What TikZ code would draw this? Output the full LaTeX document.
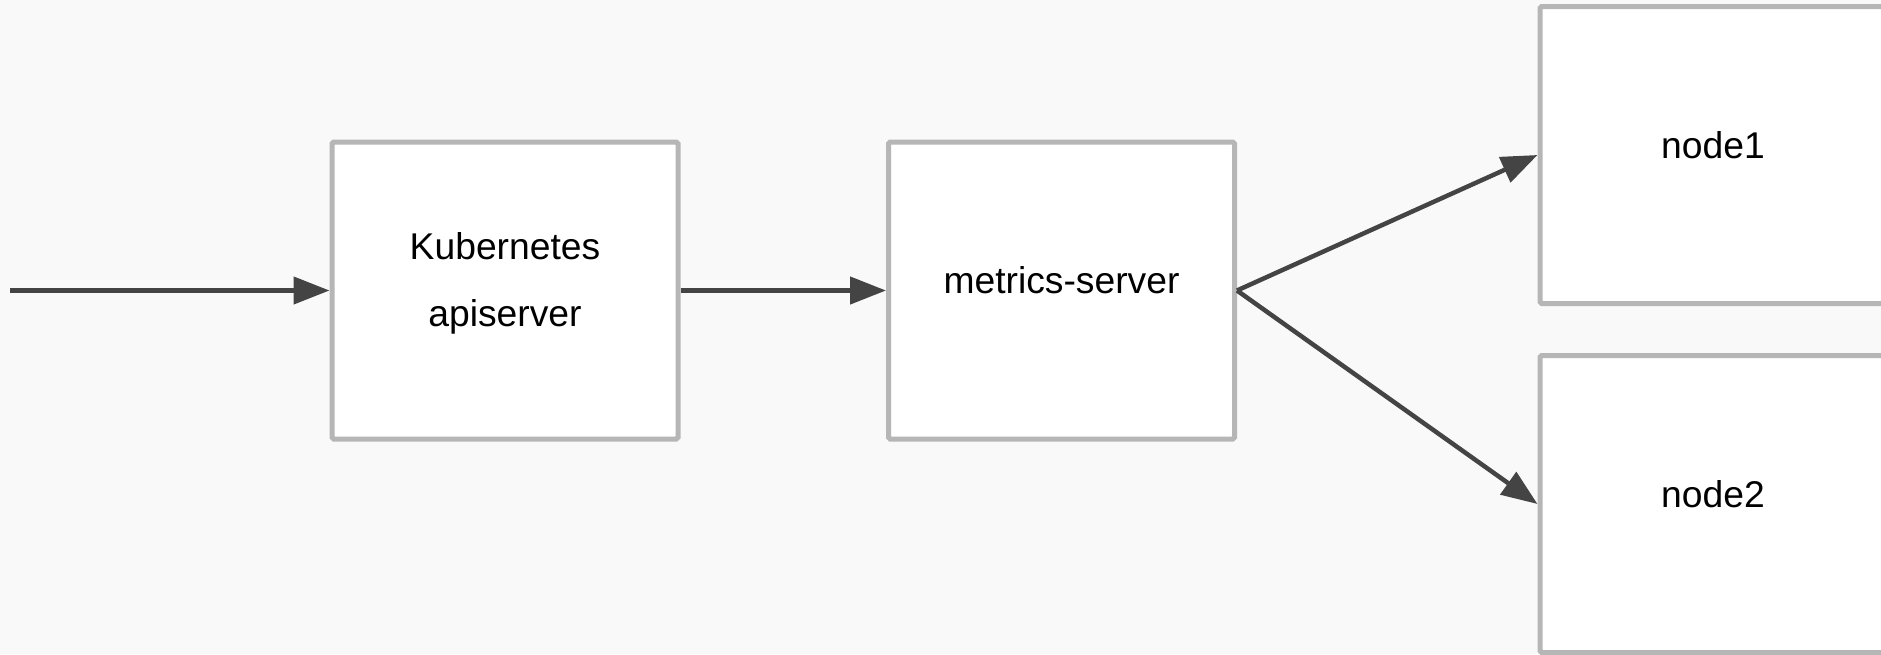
\documentclass[tikz,border=0pt]{standalone}
\usepackage{fontspec}
\setmainfont{Liberation Sans}
\usetikzlibrary{arrows.meta}

\begin{document}
\begin{tikzpicture}[
  srv_box/.style={shape=rectangle,draw=srv_border,line width=0.05cm,fill=white,rounded corners=0.5pt,
    minimum width=3.46cm,minimum height=2.97cm,font=\fontsize{10.6pt}{19pt}\selectfont},
  one_line/.style={text height=0.3cm,text depth=0.232cm},
  flow_arrow/.style={draw=flow_line,line width=0.045cm,-{Triangle[length=0.36cm,width=0.27cm]}}
]
\definecolor{srv_bg}{RGB}{249,249,249}
\definecolor{srv_border}{RGB}{182,182,182}
\definecolor{flow_line}{RGB}{68,68,68}
\fill[srv_bg] (0,0) rectangle (18.81,6.54);
\useasboundingbox (0,0) rectangle (18.81,6.54);
\coordinate (request) at (0.1,3.635);
\node[srv_box,align=center,text height=0.94cm,text depth=0.23cm] (apiserver) at (5.05,3.635) {Kubernetes\\apiserver};
\node[srv_box,one_line] (metrics) at (10.615,3.635) {metrics-server};
\node[srv_box,one_line] (node1) at (17.13,4.99) {node1};
\node[srv_box,one_line] (node2) at (17.13,1.50) {node2};
\draw[flow_arrow] (request) to (apiserver.west);
\draw[flow_arrow] (apiserver.east) to (metrics.west);
\draw[flow_arrow] (metrics.east) to (node1.west);
\draw[flow_arrow] (metrics.east) to (node2.west);
\end{tikzpicture}
\end{document}
